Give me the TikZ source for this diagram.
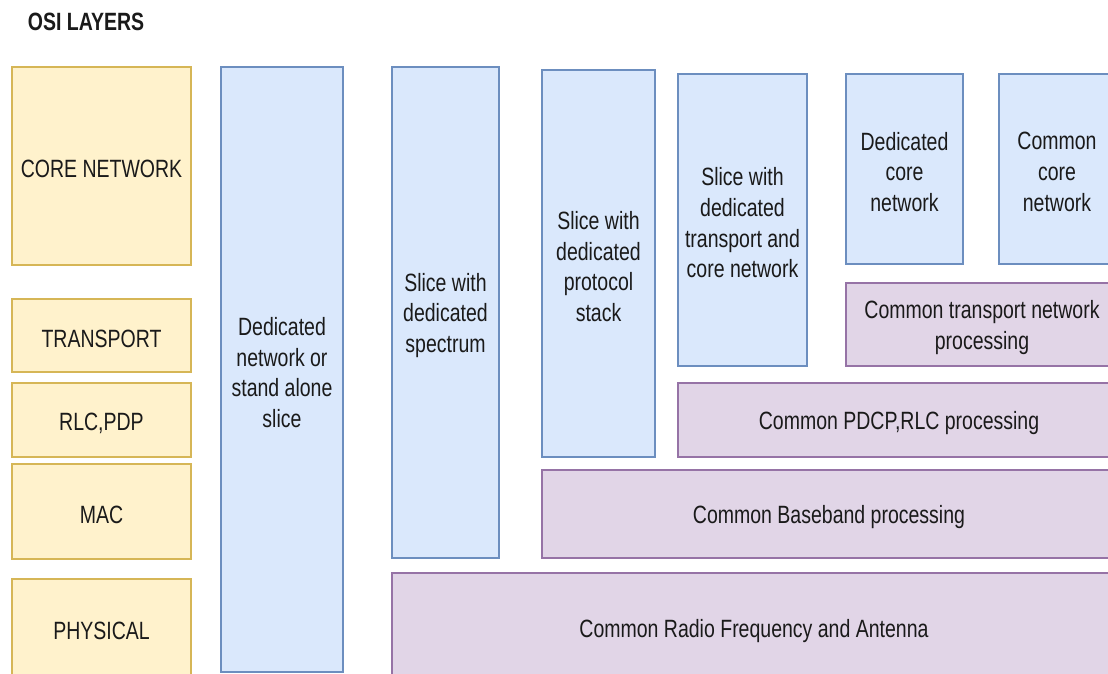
\documentclass[tikz,border=0pt]{standalone}
\usepackage{fontspec}
\setmainfont[FakeStretch=0.78]{Liberation Sans}
\definecolor{layerfill}{HTML}{FFF2CC}
\definecolor{layerline}{HTML}{D6B656}
\definecolor{slicefill}{HTML}{DAE8FC}
\definecolor{sliceline}{HTML}{6C8EBF}
\definecolor{sharedfill}{HTML}{E1D5E7}
\definecolor{sharedline}{HTML}{9673A6}
\definecolor{ink}{HTML}{1A1A1A}
\tikzset{
  block/.style={draw, line width=1.6pt, inner sep=0pt},
  layer/.style={block, fill=layerfill, draw=layerline},
  slice/.style={block, fill=slicefill, draw=sliceline},
  shared/.style={block, fill=sharedfill, draw=sharedline},
  caption/.style={align=center, inner sep=0pt, text=ink,
    font=\fontsize{25}{30.7}\selectfont},
}
% a box given by its corners: #1 style, #2 name, (x1,y1) (x2,y2), text
\newcommand{\blockbox}[7]{%
  \node[#1, minimum width={(#5)-(#3)}, minimum height={(#6)-(#4)}]
    (#2) at ({((#3)+(#5))/2},{((#4)+(#6))/2}) {};
  \node[caption] (#2-text) at ([yshift=-3pt]#2.center) {#7};}
\begin{document}
\begin{tikzpicture}[x=1pt, y=-1pt]
\useasboundingbox (0,0) rectangle (1108,674);
\clip (0,0) rectangle (1108,674);
\fill[white] (0,0) rectangle (1108,674);

\node[text=ink, font=\fontsize{25}{30}\selectfont\bfseries] (title) at (86,22) {OSI LAYERS};

% OSI layer column
\blockbox{layer}{core}{12}{67}{191}{265}{CORE NETWORK}
\blockbox{layer}{transport}{12}{299}{191}{372}{TRANSPORT}
\blockbox{layer}{rlc}{12}{383}{191}{457}{RLC,PDP}
\blockbox{layer}{mac}{12}{464}{191}{559}{MAC}
\blockbox{layer}{phy}{12}{579}{191}{677}{PHYSICAL}

% slice types
\blockbox{slice}{standalone}{221}{67}{343}{672}{Dedicated\\network or\\stand alone\\slice}
\blockbox{slice}{spectrum}{392}{67}{499}{558}{Slice with\\dedicated\\spectrum}
\blockbox{slice}{stack}{542}{70}{655}{457}{Slice with\\dedicated\\protocol\\stack}
\blockbox{slice}{transcore}{678}{74}{807}{366}{Slice with\\dedicated\\transport and\\core network}
\blockbox{slice}{dedcore}{846}{74}{963}{264}{Dedicated\\core\\network}
\blockbox{slice}{comcore}{999}{74}{1115}{264}{Common\\core\\network}

% shared processing
\blockbox{shared}{comtrans}{846}{283}{1118}{366}{Common transport network\\processing}
\blockbox{shared}{pdcp}{678}{383}{1120}{457}{Common PDCP,RLC processing}
\blockbox{shared}{baseband}{542}{470}{1116}{558}{Common Baseband processing}
\blockbox{shared}{radio}{392}{573}{1116}{683}{Common Radio Frequency and Antenna}
\end{tikzpicture}
\end{document}
